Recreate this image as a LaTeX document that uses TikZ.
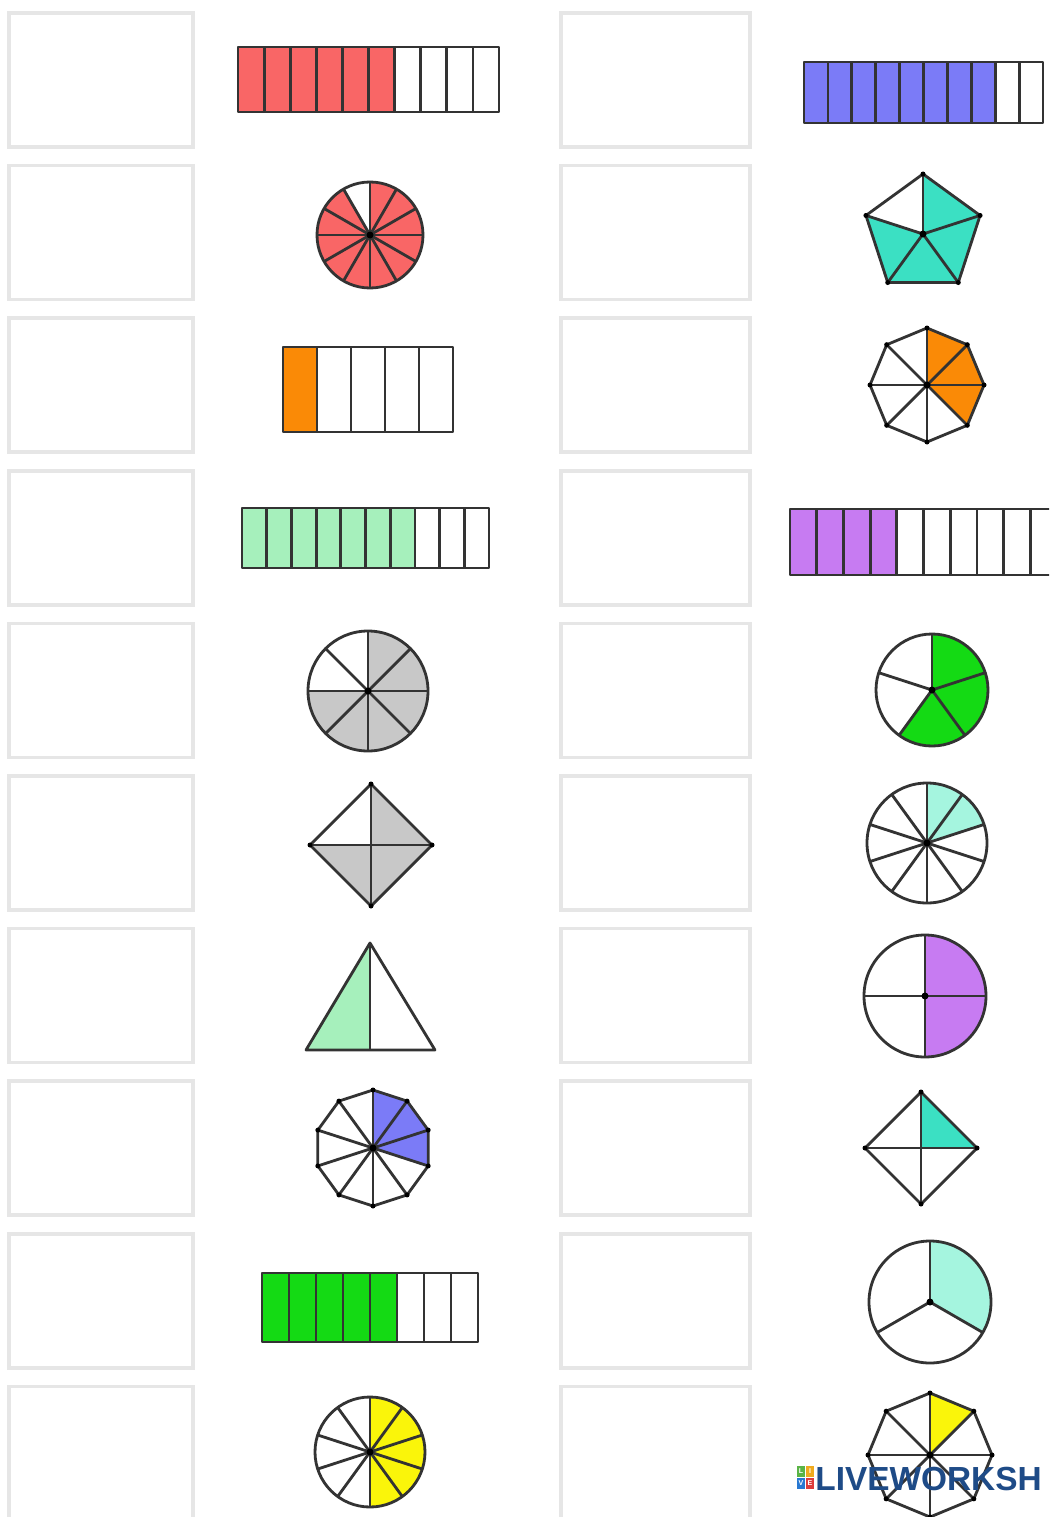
\documentclass[tikz,border=0pt]{standalone}
\usepackage{fontspec}
\newfontfamily\wmfont{Liberation Sans}
\definecolor{cred}{RGB}{249,102,102}
\definecolor{cblue}{RGB}{123,123,247}
\definecolor{corange}{RGB}{250,138,6}
\definecolor{clgreen}{RGB}{166,240,188}
\definecolor{cgray}{RGB}{200,200,200}
\definecolor{cgreen}{RGB}{20,218,20}
\definecolor{cteal}{RGB}{59,224,195}
\definecolor{clteal}{RGB}{165,245,223}
\definecolor{cpurple}{RGB}{199,123,242}
\definecolor{cyellow}{RGB}{250,245,10}
\definecolor{boxgray}{RGB}{230,230,230}
\definecolor{wmblue}{RGB}{30,75,135}
\definecolor{lgA}{RGB}{90,180,70}
\definecolor{lgB}{RGB}{240,170,30}
\definecolor{lgC}{RGB}{40,120,210}
\definecolor{lgD}{RGB}{220,60,60}

\newcommand\fracbar[7]{%
  \pgfmathsetmacro\fbw{(#3-#1)/#5}%
  \pgfmathtruncatemacro\fbn{#5-1}%
  \fill[#7] (#1,-#2) rectangle ({#1+#6*\fbw},-#4);%
  \foreach \fbi in {1,...,\fbn} \draw[shp] ({#1+\fbi*\fbw},-#2) -- ({#1+\fbi*\fbw},-#4);%
  \draw[shp] (#1,-#2) rectangle (#3,-#4);%
}
\newcommand\circfrac[7]{%
  \fill[#7] (#1,-#2) -- ++(#5:#3) arc[start angle=#5,end angle=#6,radius=#3] -- cycle;%
  \foreach \cfj in {1,...,#4} \draw[shp] (#1,-#2) -- ++({90+\cfj*360/#4}:#3);%
  \draw[shp] (#1,-#2) circle[radius=#3];%
  \fill[black] (#1,-#2) circle[radius=3.5];%
}
\newcommand\polyfrac[7]{%
  \pgfmathtruncatemacro\pfe{#6-1}%
  \foreach \pfj in {#5,...,\pfe}
    \fill[#7] (#1,-#2) -- ({#1+#3*cos(90+\pfj*360/#4)},{-#2+#3*sin(90+\pfj*360/#4)})
      -- ({#1+#3*cos(90+(\pfj+1)*360/#4)},{-#2+#3*sin(90+(\pfj+1)*360/#4)}) -- cycle;%
  \foreach \pfk in {1,...,#4} \draw[shp] (#1,-#2) -- ({#1+#3*cos(90+\pfk*360/#4)},{-#2+#3*sin(90+\pfk*360/#4)});%
  \draw[shp] (#1,{-#2+#3}) \foreach \pfk in {1,...,#4} { -- ({#1+#3*cos(90+\pfk*360/#4)},{-#2+#3*sin(90+\pfk*360/#4)}) } -- cycle;%
  \foreach \pfk in {1,...,#4} \fill[black] ({#1+#3*cos(90+\pfk*360/#4)},{-#2+#3*sin(90+\pfk*360/#4)}) circle[radius=2.5];%
  \ifnum#4>4 \fill[black] (#1,-#2) circle[radius=3.5];\fi
}

\begin{document}
\begin{tikzpicture}[x=0.02cm,y=0.02cm,
  shp/.style={draw=black!80,line width=1.6pt,line join=round},
  blank/.style={draw=boxgray,line width=2pt}]
\useasboundingbox (0,0) rectangle (1049,-1517);
\clip (0,0) rectangle (1049,-1517);
\fill[white] (0,0) rectangle (1049,-1517);

% empty answer boxes
\foreach \i in {0,...,9} {
  \draw[blank] (9,{-13-152.6*\i}) rectangle (193,{-147-152.6*\i});
  \draw[blank] (561,{-13-152.6*\i}) rectangle (750,{-147-152.6*\i});
}

% left column
\fracbar{238}{47}{499}{112}{10}{6}{cred}
\circfrac{370}{235}{53}{12}{120}{450}{cred}
\fracbar{283}{347}{453}{432}{5}{1}{corange}
\fracbar{242}{508}{489}{568}{10}{7}{clgreen}
\circfrac{368}{691}{60}{8}{180}{450}{cgray}
\polyfrac{371}{845}{61}{4}{1}{4}{cgray}
\fill[clgreen] (306,-1050) -- (370,-943) -- (370,-1050) -- cycle;
\draw[shp] (306,-1050) -- (370,-943) -- (435,-1050) -- cycle;
\draw[shp] (370,-943) -- (370,-1050);
\polyfrac{373}{1148}{58}{10}{-3}{0}{cblue}
\fracbar{262}{1273}{478}{1342}{8}{5}{cgreen}
\circfrac{370}{1452}{55}{10}{-90}{90}{cyellow}

% right column
\fracbar{804}{62}{1043}{123}{10}{8}{cblue}
\polyfrac{923}{234}{60}{5}{1}{5}{cteal}
\polyfrac{927}{385}{57}{8}{-3}{0}{corange}
\fracbar{790}{509}{1057}{575}{10}{4}{cpurple}
\circfrac{932}{690}{56}{5}{-126}{90}{cgreen}
\circfrac{927}{843}{60}{10}{18}{90}{clteal}
\circfrac{925}{996}{61}{4}{-90}{90}{cpurple}
\polyfrac{921}{1148}{56}{4}{-1}{0}{cteal}
\circfrac{930}{1302}{61}{3}{-30}{90}{clteal}
\polyfrac{930}{1455}{62}{8}{-1}{0}{cyellow}

% watermark
\begin{scope}[every node/.style={font=\wmfont\bfseries\fontsize{4}{4}\selectfont,text=white,inner sep=0}]
\fill[lgA] (797,-1466) rectangle (805,-1477); \node (la) at (801,-1471.5) {L};
\fill[lgB] (806,-1466) rectangle (814,-1477); \node (lb) at (810,-1471.5) {I};
\fill[lgC] (797,-1478) rectangle (805,-1489); \node (lc) at (801,-1483.5) {V};
\fill[lgD] (806,-1478) rectangle (814,-1489); \node (ld) at (810,-1483.5) {E};
\end{scope}
\node[anchor=base west,font=\wmfont\bfseries\fontsize{19}{19}\selectfont,text=wmblue,inner sep=0] (wm) at (815,-1490) {LIVEWORKSH};
\end{tikzpicture}
\end{document}
